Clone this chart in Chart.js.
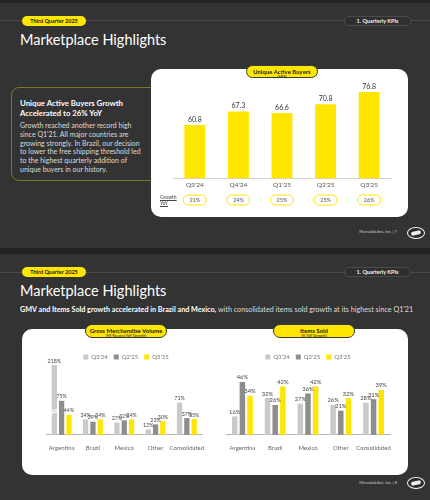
<!DOCTYPE html>
<html><head><meta charset="utf-8">
<script src="https://cdn.jsdelivr.net/npm/chart.js@4.4.0/dist/chart.umd.min.js"></script>
<style>
html,body{margin:0;padding:0;background:#232323;width:430px;height:500px;overflow:hidden;font-family:Lato,"Open Sans",sans-serif;}
.abs{position:absolute;}
.slide{position:absolute;left:0;width:430px;background:#333333;}
.hline{position:absolute;left:0;width:430px;height:1px;background:#484848;}
.ypill{position:absolute;background:#ffe600;border-radius:6px;color:#222;font-weight:700;font-size:5.5px;display:flex;align-items:center;justify-content:center;}
.dpill{position:absolute;background:#2f2f2f;border:1px solid #4c4c4c;border-radius:6px;color:#f2f2f2;font-weight:700;font-size:5.5px;display:flex;align-items:center;justify-content:center;box-sizing:border-box;}
.title{position:absolute;left:20px;color:#fff;font-size:14.5px;line-height:15px;white-space:nowrap;}
.card{position:absolute;background:#fff;border-radius:10px;}
.cpill{position:absolute;background:#ffe600;border:1px solid #3a3a3a;border-radius:8px;box-sizing:border-box;text-align:center;color:#222;}
.cpill .t{font-weight:700;font-size:6px;line-height:7px;margin-top:1.5px;white-space:nowrap;}
.cpill .s{font-size:3.8px;line-height:4px;white-space:nowrap;}
.foot{position:absolute;left:340px;width:57px;text-align:right;color:#d0d0d0;font-size:4px;line-height:5px;white-space:nowrap;font-family:Lato,sans-serif;}
.logo{position:absolute;width:16px;height:10px;border:1.2px solid #fff;border-radius:50%;background:#2b2b2b;}
.logo:after{content:"";position:absolute;left:3px;top:3px;width:10px;height:4px;background:#eee;border-radius:3px;transform:rotate(-12deg);}
canvas{position:absolute;}
</style>
</head>
<body>
<script>
// ---- data ----
const uabQuarters = ["Q3'24", "Q4'24", "Q1'25", "Q2'25", "Q3'25"];
const uabValues = [60.8, 67.3, 66.6, 70.8, 76.8];
const uabGrowth = ["21%", "24%", "25%", "25%", "26%"];

const regions = ["Argentina", "Brazil", "Mexico", "Other", "Consolidated"];
const seriesNames = ["Q3'24", "Q2'25", "Q3'25"];

const gmvQ324 = [218, 34, 27, 12, 71];
const gmvQ225 = [75, 29, 32, 23, 37];
const gmvQ325 = [44, 34, 34, 30, 35];

const itemsQ324 = [16, 32, 27, 26, 28];
const itemsQ225 = [46, 26, 36, 21, 31];
const itemsQ325 = [34, 42, 42, 32, 39];
</script>

<div class="slide" style="top:3px;height:245px;"></div>
<div class="slide" style="top:254px;height:246px;"></div>

<!-- slide 1 -->
<div class="hline" style="top:20px;"></div>
<div class="ypill" style="left:22px;top:16px;width:64px;height:9.5px;">Third Quarter 2025</div>
<div class="dpill" style="left:344px;top:16px;width:67px;height:10px;">1. Quarterly KPIs</div>
<div class="title" style="top:31.5px;">Marketplace Highlights</div>

<div class="abs" style="left:11px;top:87px;width:150px;height:94px;border:1px solid #7a7624;border-radius:8px;box-sizing:border-box;"></div>
<div class="abs" style="left:20px;top:99px;color:#fff;font-weight:700;font-size:7.8px;line-height:9.5px;white-space:nowrap;">Unique Active Buyers Growth<br>Accelerated to 26% YoY</div>
<div class="abs" style="left:20px;top:121px;color:#dcdcdc;font-size:7px;line-height:8.8px;white-space:nowrap;">Growth reached another record high<br>since Q1'21. All major countries are<br>growing strongly. In Brazil, our decision<br>to lower the free shipping threshold led<br>to the highest quarterly addition of<br>unique buyers in our history.</div>

<div class="card" style="left:151px;top:69px;width:257px;height:148px;"></div>
<canvas id="uab" width="258" height="148" style="left:151px;top:69px;"></canvas>
<div class="cpill" style="left:246px;top:65px;width:72px;height:13px;"><div class="t">Unique Active Buyers</div><div class="s">(MM)</div></div>
<div class="abs" style="left:160px;top:194px;color:#444;font-size:5px;line-height:6px;text-decoration:underline;">Growth<br>YoY</div>

<div class="foot" style="top:229px;">MercadoLibre, Inc. | 7</div>
<div class="logo" style="left:407px;top:227px;"></div>

<!-- slide 2 -->
<div class="hline" style="top:272px;"></div>
<div class="ypill" style="left:22px;top:267px;width:64px;height:9.5px;">Third Quarter 2025</div>
<div class="dpill" style="left:344px;top:267px;width:67px;height:10px;">1. Quarterly KPIs</div>
<div class="title" style="top:282.5px;">Marketplace Highlights</div>
<div class="abs" style="left:20px;top:305px;color:#dcdcdc;font-size:7.2px;line-height:9px;white-space:nowrap;"><b style="color:#fff;">GMV and Items Sold growth accelerated in Brazil and Mexico,</b> with consolidated items sold growth at its highest since Q1'21</div>

<div class="card" style="left:22px;top:329px;width:386px;height:146px;"></div>
<canvas id="gmv" width="193" height="134" style="left:22px;top:340px;"></canvas>
<canvas id="items" width="191" height="134" style="left:217px;top:340px;"></canvas>
<div class="cpill" style="left:85px;top:324px;width:82px;height:14px;"><div class="t">Gross Merchandise Volume</div><div class="s">(FX-Neutral YoY Growth)</div></div>
<div class="cpill" style="left:273px;top:324px;width:82px;height:14px;"><div class="t">Items Sold</div><div class="s">(% YoY Growth)</div></div>

<div class="foot" style="top:480px;">MercadoLibre, Inc. | 8</div>
<div class="logo" style="left:407px;top:477px;"></div>

<script>
const FONT = 'Lato, "Open Sans", sans-serif';
const YELLOW = '#ffe600';
const LIGHT = '#c9c9c9';
const DARK = '#8d8d8d';

function labelPlugin(rawSets, size, color, offset, suffix, digits) {
  return {
    id: 'valueLabels',
    afterDatasetsDraw(chart) {
      const ctx = chart.ctx;
      ctx.save();
      ctx.font = size + 'px ' + FONT;
      ctx.fillStyle = color;
      ctx.textAlign = 'center';
      ctx.textBaseline = 'bottom';
      chart.data.datasets.forEach((ds, di) => {
        const meta = chart.getDatasetMeta(di);
        meta.data.forEach((el, i) => {
          const v = rawSets[di][i];
          const txt = (digits != null ? v.toFixed(digits) : String(v)) + suffix;
          ctx.fillText(txt, el.x, el.y - offset);
        });
      });
      ctx.restore();
    }
  };
}

// --- Unique Active Buyers ---
const growthRow = {
  id: 'growthRow',
  afterDraw(chart) {
    const ctx = chart.ctx, xs = chart.scales.x;
    const y = 131; // canvas y of pill centre
    ctx.save();
    ctx.font = '5.5px ' + FONT;
    ctx.textAlign = 'center';
    ctx.textBaseline = 'middle';
    uabGrowth.forEach((g, i) => {
      const x = xs.getPixelForValue(i);
      const w = 23, h = 10;
      ctx.beginPath();
      ctx.roundRect(x - w / 2, y - h / 2, w, h, 5);
      ctx.strokeStyle = YELLOW;
      ctx.lineWidth = 1;
      ctx.stroke();
      ctx.fillStyle = '#555';
      ctx.fillText(g, x, y + 0.5);
    });
    ctx.restore();
  }
};

new Chart(document.getElementById('uab'), {
  type: 'bar',
  data: {
    labels: uabQuarters,
    datasets: [{ data: uabValues, backgroundColor: YELLOW, borderWidth: 0, barPercentage: 0.48, categoryPercentage: 1 }]
  },
  options: {
    responsive: false, animation: false, devicePixelRatio: 1,
    layout: { padding: { left: 22, right: 18, top: 6, bottom: 25 } },
    plugins: { legend: { display: false }, tooltip: { enabled: false } },
    scales: {
      x: {
        grid: { display: false, drawTicks: false },
        border: { display: true, color: '#cfcfcf', width: 1 },
        ticks: { font: { size: 6.5, family: FONT }, color: '#555', padding: 3, autoSkip: false, maxRotation: 0 }
      },
      y: { display: false, min: 35, max: 85 }
    }
  },
  plugins: [labelPlugin([uabValues], 7, '#333', 2, '', 1), growthRow]
});

// --- grouped charts ---
const GMV_BREAK = 154; // display height cap for the broken bar
function groupedChart(id, sets, yMax, pad, cap, labelSize) {
  const colors = [LIGHT, DARK, YELLOW];
  const shown = sets.map(s => s.map(v => cap ? Math.min(v, cap) : v));
  const breakMarks = {
    id: 'breakMarks',
    afterDatasetsDraw(chart) {
      if (!cap) return;
      const ctx = chart.ctx;
      ctx.save();
      ctx.strokeStyle = '#fff';
      ctx.lineWidth = 1.1;
      sets.forEach((s, di) => {
        const meta = chart.getDatasetMeta(di);
        s.forEach((v, i) => {
          if (v <= cap) return;
          const el = meta.data[i];
          const w = el.width;
          const y0 = el.base - (el.base - el.y) * 0.35;
          [0, 2.2].forEach(d => {
            ctx.beginPath();
            ctx.moveTo(el.x - w / 2 - 0.5, y0 + 1.2 + d);
            ctx.lineTo(el.x + w / 2 + 0.5, y0 - 1.2 + d);
            ctx.stroke();
          });
        });
      });
      ctx.restore();
    }
  };
  return new Chart(document.getElementById(id), {
    type: 'bar',
    data: {
      labels: regions,
      datasets: shown.map((d, i) => ({
        label: seriesNames[i], data: d, backgroundColor: colors[i], borderWidth: 0,
        categoryPercentage: 0.7, barPercentage: 0.72, clip: false
      }))
    },
    options: {
      responsive: false, animation: false, devicePixelRatio: 1,
      layout: { padding: pad },
      plugins: {
        tooltip: { enabled: false },
        legend: {
          display: true, position: 'top',
          labels: { boxWidth: 5, boxHeight: 5, padding: 6, color: '#777', font: { size: 6, family: FONT } }
        }
      },
      scales: {
        x: {
          grid: { display: false, drawTicks: false },
          border: { display: true, color: '#b5b5b5', width: 1 },
          ticks: { font: { size: 6, family: FONT }, color: '#666', padding: 10, autoSkip: false, maxRotation: 0 }
        },
        y: { display: false, min: 0, max: yMax }
      }
    },
    plugins: [labelPlugin(sets, labelSize, '#444', 1.5, '%', null), breakMarks]
  });
}

groupedChart('gmv', [gmvQ324, gmvQ225, gmvQ325], 143, { left: 24, right: 9, top: 8, bottom: 12 }, GMV_BREAK, 5.3);
groupedChart('items', [itemsQ324, itemsQ225, itemsQ325], 56.4, { left: 9, right: 18, top: 8, bottom: 12 }, null, 5.8);
</script>
</body></html>
